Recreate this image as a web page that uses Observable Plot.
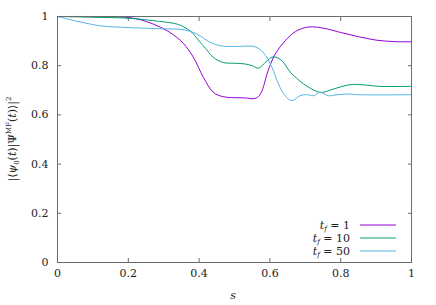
<!DOCTYPE html>
<html>
<head>
<meta charset="utf-8">
<script src="https://cdn.jsdelivr.net/npm/d3@7"></script>
<script src="https://cdn.jsdelivr.net/npm/@observablehq/plot@0.6"></script>
<style>
  html, body { margin: 0; padding: 0; background: white; }
  svg text { font-family: "DejaVu Serif", "Liberation Serif", serif; }
</style>
</head>
<body>
<div id="chart"></div>
<script>
const seriesNames = ["t_f = 1", "t_f = 10", "t_f = 50"];
const legendValues = ["1", "10", "50"];
const seriesColors = ["#9400d3", "#009e73", "#56b4e9"];

const sTf1 = [0, 0.08, 0.15, 0.2, 0.234, 0.271, 0.31, 0.338, 0.356, 0.384, 0.412, 0.44, 0.468, 0.5, 0.53, 0.555, 0.568, 0.578, 0.595, 0.615, 0.643, 0.672, 0.7, 0.72, 0.75, 0.8, 0.85, 0.9, 0.95, 1.0];
const vTf1 = [1.0, 1.0, 0.999, 0.996, 0.987, 0.969, 0.942, 0.914, 0.89, 0.834, 0.753, 0.692, 0.674, 0.67, 0.669, 0.666, 0.675, 0.699, 0.78, 0.847, 0.901, 0.939, 0.955, 0.958, 0.953, 0.935, 0.918, 0.904, 0.898, 0.897];

const sTf10 = [0, 0.1, 0.2, 0.271, 0.338, 0.36, 0.38, 0.4, 0.412, 0.44, 0.468, 0.5, 0.53, 0.55, 0.567, 0.585, 0.6, 0.612, 0.634, 0.657, 0.695, 0.733, 0.75, 0.779, 0.827, 0.864, 0.911, 1.0];
const vTf10 = [1.0, 0.997, 0.993, 0.983, 0.969, 0.955, 0.935, 0.9, 0.881, 0.834, 0.813, 0.81, 0.807, 0.8, 0.79, 0.81, 0.83, 0.836, 0.82, 0.775, 0.726, 0.695, 0.692, 0.705, 0.723, 0.722, 0.716, 0.716];

const sTf50 = [0, 0.042, 0.087, 0.121, 0.183, 0.234, 0.3, 0.338, 0.36, 0.394, 0.431, 0.46, 0.5, 0.558, 0.581, 0.606, 0.624, 0.643, 0.662, 0.685, 0.705, 0.723, 0.742, 0.765, 0.79, 0.818, 0.85, 1.0];
const vTf50 = [1.0, 0.985, 0.971, 0.962, 0.956, 0.953, 0.95, 0.949, 0.945, 0.929, 0.895, 0.881, 0.878, 0.877, 0.854, 0.793, 0.726, 0.678, 0.658, 0.678, 0.682, 0.678, 0.692, 0.678, 0.682, 0.685, 0.682, 0.682];

const xTicks = [0, 0.2, 0.4, 0.6, 0.8, 1];
const yTicks = [0, 0.2, 0.4, 0.6, 0.8, 1];

const sArrays = [sTf1, sTf10, sTf50];
const vArrays = [vTf1, vTf10, vTf50];
const data = [];
seriesNames.forEach((name, i) => {
  sArrays[i].forEach((s, j) => data.push({series: name, s, v: vArrays[i][j]}));
});

const axisColor = "#6a6a6a";
const fmt = d => String(d);
const ff = "DejaVu Serif, Liberation Serif, serif";

const chart = Plot.plot({
  width: 436,
  height: 305,
  marginLeft: 57,
  marginRight: 25,
  marginTop: 16,
  marginBottom: 43,
  style: {fontFamily: ff, fontSize: "11px", background: "white", color: "#222"},
  x: {domain: [0, 1], label: null},
  y: {domain: [0, 1], label: null},
  color: {domain: seriesNames, range: seriesColors},
  marks: [
    Plot.axisX(xTicks, {anchor: "bottom", tickSize: 0, tickPadding: 7, tickFormat: fmt, label: null, fontSize: 11}),
    Plot.axisY(yTicks, {anchor: "left", tickSize: 0, tickPadding: 9, tickFormat: fmt, label: null, fontSize: 11}),
    Plot.axisX(xTicks, {anchor: "bottom", tickSize: -4, tickFormat: () => "", stroke: axisColor, label: null}),
    Plot.axisX(xTicks, {anchor: "top", tickSize: -4, tickFormat: () => "", stroke: axisColor, label: null}),
    Plot.axisY(yTicks, {anchor: "left", tickSize: -4, tickFormat: () => "", stroke: axisColor, label: null}),
    Plot.axisY(yTicks, {anchor: "right", tickSize: -4, tickFormat: () => "", stroke: axisColor, label: null}),
    Plot.line(data, {x: "s", y: "v", z: "series", stroke: "series", strokeWidth: 1, curve: "catmull-rom"}),
    Plot.frame({stroke: axisColor, strokeWidth: 1})
  ]
});

document.getElementById("chart").appendChild(chart);

const svg = d3.select(chart);

// x label
svg.append("text")
  .attr("x", 233).attr("y", 299)
  .attr("text-anchor", "middle")
  .attr("font-size", 11).attr("font-style", "italic")
  .attr("fill", "#222")
  .text("s");

// y label
const yl = svg.append("text")
  .attr("transform", "translate(16,139) rotate(-90)")
  .attr("text-anchor", "middle")
  .attr("font-size", 11)
  .attr("fill", "#222");
yl.append("tspan").text("|⟨");
yl.append("tspan").attr("font-style", "italic").text("ψ");
yl.append("tspan").attr("font-size", 7).attr("dy", 3).text("0");
yl.append("tspan").attr("dy", -3).text("(");
yl.append("tspan").attr("font-style", "italic").text("t");
yl.append("tspan").text(")|Ψ");
yl.append("tspan").attr("font-size", 7).attr("dy", -5).text("MF");
yl.append("tspan").attr("dy", 5).text("(");
yl.append("tspan").attr("font-style", "italic").text("t");
yl.append("tspan").text(")⟩|");
yl.append("tspan").attr("font-size", 7).attr("dy", -5).text("2");

// legend
const lg = svg.append("g");
legendValues.forEach((val, i) => {
  const cy = 225 + i * 13;
  const t = lg.append("text")
    .attr("x", 350).attr("y", cy + 4)
    .attr("text-anchor", "end")
    .attr("font-size", 11)
    .attr("fill", "#222");
  t.append("tspan").attr("font-style", "italic").text("t");
  t.append("tspan").attr("font-style", "italic").attr("font-size", 7).attr("dy", 2).text("f");
  t.append("tspan").attr("dy", -2).text(" = " + val);
  lg.append("line")
    .attr("x1", 360).attr("x2", 396)
    .attr("y1", cy).attr("y2", cy)
    .attr("stroke", seriesColors[i]).attr("stroke-width", 1);
});
</script>
</body>
</html>
